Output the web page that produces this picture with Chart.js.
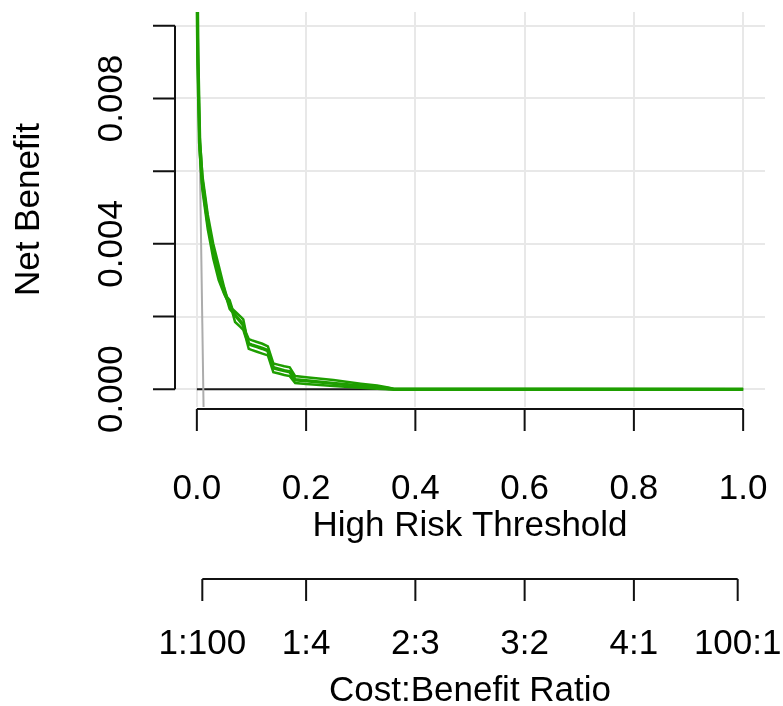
<!DOCTYPE html>
<html><head><meta charset="utf-8">
<script src="https://cdn.jsdelivr.net/npm/chart.js@4/dist/chart.umd.min.js"></script>
<style>html,body{margin:0;padding:0;background:#fff;overflow:hidden}#wrap{width:783px;height:706px;position:relative}</style>
</head><body><div id="wrap"><canvas id="c" width="783" height="706"></canvas></div>
<script>
// ---- data ----
const thresholds = [0, 0.002, 0.005, 0.01, 0.02, 0.03, 0.04, 0.05, 0.055, 0.06, 0.065, 0.07, 0.08, 0.085, 0.09, 0.095, 0.10, 0.11, 0.12, 0.13, 0.14, 0.15, 0.16, 0.17, 0.18, 0.20, 0.25, 0.30, 0.33, 0.35, 0.36, 1.0];
const nbUpper = [0.0120, 0.0092, 0.0070, 0.0059, 0.0048, 0.0040, 0.0034, 0.00280, 0.00254, 0.00245, 0.00221, 0.00214, 0.00200, 0.00192, 0.00155, 0.00138, 0.00135, 0.00130, 0.00125, 0.00118, 0.00071, 0.00067, 0.00063, 0.00060, 0.00036, 0.00033, 0.00025, 0.00015, 0.00010, 0.00005, 0.00001, 0];
const nbMean  = [0.0118, 0.0090, 0.0068, 0.0057, 0.0046, 0.0038, 0.0032, 0.00270, 0.00250, 0.00233, 0.00216, 0.00204, 0.00186, 0.00176, 0.00148, 0.00125, 0.00122, 0.00117, 0.00112, 0.00106, 0.00059, 0.00055, 0.00051, 0.00048, 0.00026, 0.00023, 0.00016, 0.00009, 0.00005, 0.00002, 0, 0];
const nbLower = [0.0116, 0.0088, 0.0066, 0.0055, 0.0044, 0.0036, 0.0030, 0.00262, 0.00247, 0.00221, 0.00212, 0.00185, 0.00171, 0.00163, 0.00140, 0.00111, 0.00108, 0.00103, 0.00098, 0.00093, 0.00047, 0.00043, 0.00039, 0.00036, 0.00017, 0.00014, 0.00009, 0.00004, 0.00001, 0, 0, 0];
const allThresholds = [0, 0.005, 0.01, 0.015, 0.02];
const nbAll = [0.0118, 0.00683, 0.00182, -0.00325, -0.00837];
const noneThresholds = [0, 1];
const nbNone = [0, 0];
const xTicks = [0, 0.2, 0.4, 0.6, 0.8, 1.0];
const xTickLabels = ['0.0', '0.2', '0.4', '0.6', '0.8', '1.0'];
const yTicks = [0, 0.002, 0.004, 0.006, 0.008, 0.010];
const yTickLabels = ['0.000', '', '0.004', '', '0.008', ''];
const cbTicks = [0.01, 0.2, 0.4, 0.6, 0.8, 0.99];
const cbLabels = ['1:100', '1:4', '2:3', '3:2', '4:1', '100:1'];
const xTitle = 'High Risk Threshold';
const yTitle = 'Net Benefit';
const cbTitle = 'Cost:Benefit Ratio';

const pts = (xs, ys) => xs.map((x, i) => ({x: x, y: ys[i]}));
const GREEN = '#1e9e00';
const FONT = '35px "Liberation Sans", Arial, sans-serif';

const rAxes = {
  id: 'rAxes',
  afterDatasetsDraw(chart) {
    const ctx = chart.ctx, xs = chart.scales.x, ys = chart.scales.y;
    ctx.save();
    ctx.strokeStyle = '#111';
    ctx.lineWidth = 2;
    ctx.fillStyle = '#000';
    ctx.font = FONT;
    const tick = 22;
    // y axis
    const yAxisX = chart.chartArea.left;
    ctx.beginPath();
    ctx.moveTo(yAxisX, ys.getPixelForValue(yTicks[0]));
    ctx.lineTo(yAxisX, ys.getPixelForValue(yTicks[yTicks.length - 1]));
    yTicks.forEach(v => { const p = ys.getPixelForValue(v); ctx.moveTo(yAxisX, p); ctx.lineTo(yAxisX - tick, p); });
    ctx.stroke();
    ctx.textAlign = 'center'; ctx.textBaseline = 'alphabetic';
    yTicks.forEach((v, i) => {
      if (!yTickLabels[i]) return;
      ctx.save(); ctx.translate(122, ys.getPixelForValue(v)); ctx.rotate(-Math.PI / 2);
      ctx.fillText(yTickLabels[i], 0, 0); ctx.restore();
    });
    ctx.save(); ctx.translate(39, (chart.chartArea.top + chart.chartArea.bottom) / 2); ctx.rotate(-Math.PI / 2);
    ctx.fillText(yTitle, 0, 0); ctx.restore();
    // x axis
    const xAxisY = chart.chartArea.bottom + 2;
    ctx.beginPath();
    ctx.moveTo(xs.getPixelForValue(xTicks[0]), xAxisY);
    ctx.lineTo(xs.getPixelForValue(xTicks[xTicks.length - 1]), xAxisY);
    xTicks.forEach(v => { const p = xs.getPixelForValue(v); ctx.moveTo(p, xAxisY); ctx.lineTo(p, xAxisY + tick); });
    ctx.stroke();
    xTicks.forEach((v, i) => ctx.fillText(xTickLabels[i], xs.getPixelForValue(v), 499));
    const midX = (xs.getPixelForValue(0) + xs.getPixelForValue(1)) / 2;
    ctx.fillText(xTitle, midX, 536);
    // cost:benefit axis
    const cbY = 579;
    ctx.beginPath();
    ctx.moveTo(xs.getPixelForValue(cbTicks[0]), cbY);
    ctx.lineTo(xs.getPixelForValue(cbTicks[cbTicks.length - 1]), cbY);
    cbTicks.forEach(v => { const p = xs.getPixelForValue(v); ctx.moveTo(p, cbY); ctx.lineTo(p, cbY + tick); });
    ctx.stroke();
    cbTicks.forEach((v, i) => ctx.fillText(cbLabels[i], xs.getPixelForValue(v), 654));
    ctx.fillText(cbTitle, midX, 701);
    ctx.restore();
  }
};

// Chart.js paints the first dataset last (on top), so the green curves come first.
new Chart(document.getElementById('c'), {
  type: 'scatter',
  data: {
    datasets: [
      {label: 'Mean', data: pts(thresholds, nbMean), showLine: true, borderColor: GREEN, borderWidth: 3.5, pointRadius: 0},
      {label: 'Upper', data: pts(thresholds, nbUpper), showLine: true, borderColor: GREEN, borderWidth: 2.5, pointRadius: 0},
      {label: 'Lower', data: pts(thresholds, nbLower), showLine: true, borderColor: GREEN, borderWidth: 2.5, pointRadius: 0},
      {label: 'All', data: pts(allThresholds, nbAll), showLine: true, borderColor: '#acacac', borderWidth: 2, pointRadius: 0},
      {label: 'None', data: pts(noneThresholds, nbNone), showLine: true, borderColor: '#1a1a1a', borderWidth: 2, pointRadius: 0}
    ]
  },
  options: {
    responsive: false, devicePixelRatio: 1, animation: false,
    layout: {padding: {left: 175, right: 18, top: 12, bottom: 299}},
    plugins: {legend: {display: false}, tooltip: {enabled: false}},
    scales: {
      x: {type: 'linear', min: -0.04, max: 1.04,
          afterBuildTicks: s => { s.ticks = xTicks.map(v => ({value: v})); },
          ticks: {display: false}, border: {display: false},
          grid: {color: '#e8e8e8', lineWidth: 2, drawTicks: false}},
      y: {type: 'linear', min: -0.00049, max: 0.01038,
          afterBuildTicks: s => { s.ticks = yTicks.map(v => ({value: v})); },
          ticks: {display: false}, border: {display: false},
          grid: {color: '#e8e8e8', lineWidth: 2, drawTicks: false}}
    }
  },
  plugins: [rAxes]
});
</script></body></html>
